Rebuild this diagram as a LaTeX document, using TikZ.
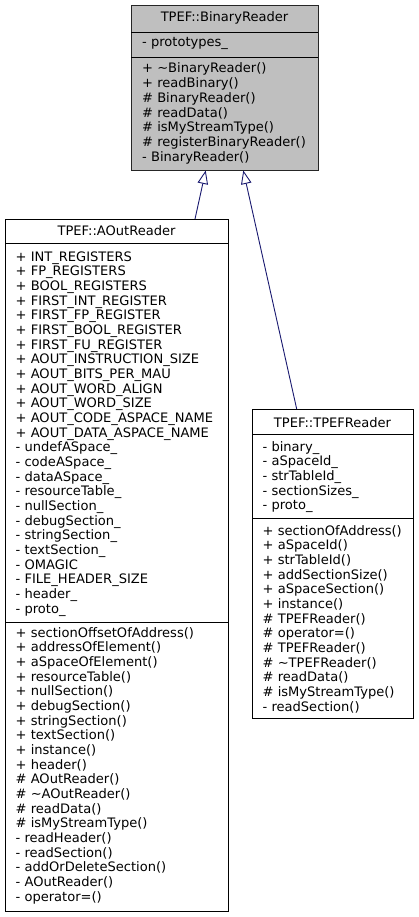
\documentclass[tikz,border=0pt]{standalone}
\usepackage{fontspec}
\setmainfont{DejaVu Sans}
\usetikzlibrary{arrows.meta}
\definecolor{edgeblue}{HTML}{191970}
\definecolor{basegray}{HTML}{BFBFBF}
\tikzset{
  classbox/.style={draw=black, line width=0.9pt, fill=white},
  basebox/.style={draw=black!85, line width=0.9pt, fill=basegray},
  divider/.style={draw=black, line width=0.9pt},
  member/.style={anchor=base west, inner sep=0pt, font=\fontsize{13.05}{14.67}\selectfont},
  title/.style={anchor=base, inner sep=0pt, font=\fontsize{13.05}{14.67}\selectfont},
  inh/.style={draw=edgeblue, line width=0.9pt, -{Triangle[open, length=13.5pt, width=10.5pt, line width=0.9pt]}},
}
\begin{document}
\begin{tikzpicture}[x=1pt, y=-1pt]
\useasboundingbox (0,0) rectangle (419,917);
\fill[white] (0,0) rectangle (419,917);

% ---------- TPEF::BinaryReader ----------
\path[basebox] (131,5) rectangle (318,170);
\node (binary) at (224.5,87.5) [inner sep=0pt, minimum width=187pt, minimum height=165pt] {};
\draw[divider] (131,32) -- (318,32);
\draw[divider] (131,57) -- (318,57);
\node[title] (binarytitle) at (224.5,22) {TPEF::BinaryReader};
\node[member] (battr0) at (142,46.5) {- prototypes\_};
\foreach [count=\i from 0] \t in {%
  + \textasciitilde BinaryReader(),
  + readBinary(),
  \# BinaryReader(),
  \# readData(),
  \# isMyStreamType(),
  \# registerBinaryReader(),
  - BinaryReader()}
  \node[member] (bmeth\i) at (142,73+\i*14.67) {\t};

% ---------- TPEF::AOutReader ----------
\path[classbox] (5,219) rectangle (228,911);
\node (aout) at (116.5,565) [inner sep=0pt, minimum width=223pt, minimum height=692pt] {};
\draw[divider] (5,243) -- (228,243);
\draw[divider] (5,622) -- (228,622);
\node[title] (aouttitle) at (116.5,235) {TPEF::AOutReader};
\foreach [count=\i from 0] \t in {%
  + INT\_REGISTERS,
  + FP\_REGISTERS,
  + BOOL\_REGISTERS,
  + FIRST\_INT\_REGISTER,
  + FIRST\_FP\_REGISTER,
  + FIRST\_BOOL\_REGISTER,
  + FIRST\_FU\_REGISTER,
  + AOUT\_INSTRUCTION\_SIZE,
  + AOUT\_BITS\_PER\_MAU,
  + AOUT\_WORD\_ALIGN,
  + AOUT\_WORD\_SIZE,
  + AOUT\_CODE\_ASPACE\_NAME,
  + AOUT\_DATA\_ASPACE\_NAME,
  - undefASpace\_,
  - codeASpace\_,
  - dataASpace\_,
  - resourceTable\_,
  - nullSection\_,
  - debugSection\_,
  - stringSection\_,
  - textSection\_,
  - OMAGIC,
  - FILE\_HEADER\_SIZE,
  - header\_,
  - proto\_}
  \node[member] (aattr\i) at (15.5,261+\i*14.67) {\t};
\foreach [count=\i from 0] \t in {%
  + sectionOffsetOfAddress(),
  + addressOfElement(),
  + aSpaceOfElement(),
  + resourceTable(),
  + nullSection(),
  + debugSection(),
  + stringSection(),
  + textSection(),
  + instance(),
  + header(),
  \# AOutReader(),
  \# \textasciitilde AOutReader(),
  \# readData(),
  \# isMyStreamType(),
  - readHeader(),
  - readSection(),
  - addOrDeleteSection(),
  - AOutReader(),
  - operator=()}
  \node[member] (ameth\i) at (15.5,637+\i*14.67) {\t};

% ---------- TPEF::TPEFReader ----------
\path[classbox] (252,409) rectangle (413,718);
\node (tpef) at (332.5,563.5) [inner sep=0pt, minimum width=161pt, minimum height=309pt] {};
\draw[divider] (252,434) -- (413,434);
\draw[divider] (252,518) -- (413,518);
\node[title] (tpeftitle) at (332.5,427) {TPEF::TPEFReader};
\foreach [count=\i from 0] \t in {%
  - binary\_,
  - aSpaceId\_,
  - strTableId\_,
  - sectionSizes\_,
  - proto\_}
  \node[member] (tattr\i) at (262.5,451+\i*14.67) {\t};
\foreach [count=\i from 0] \t in {%
  + sectionOfAddress(),
  + aSpaceId(),
  + strTableId(),
  + addSectionSize(),
  + aSpaceSection(),
  + instance(),
  \# TPEFReader(),
  \# operator=(),
  \# TPEFReader(),
  \# \textasciitilde TPEFReader(),
  \# readData(),
  \# isMyStreamType(),
  - readSection()}
  \node[member] (tmeth\i) at (262.5,535+\i*14.67) {\t};

% ---------- inheritance ----------
\coordinate (aouttop) at (195,219);
\coordinate (tpeftop) at (296.7,409);
\coordinate (bin1) at (205.7,170.5);
\coordinate (bin2) at (243.3,170.5);
\draw[inh] (aouttop) -- (bin1);
\draw[inh] (tpeftop) -- (bin2);
\end{tikzpicture}
\end{document}
